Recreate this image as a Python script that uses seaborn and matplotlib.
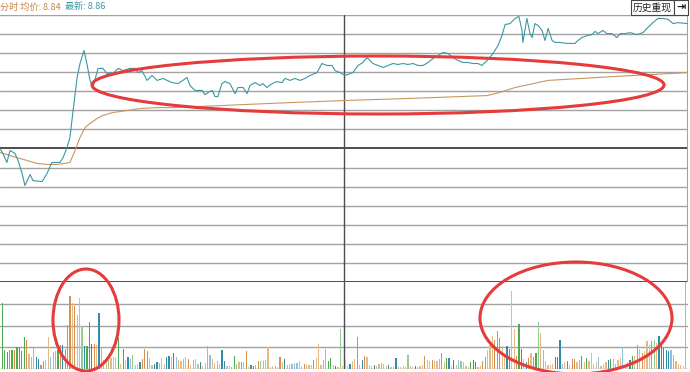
import numpy as np
import pandas as pd
import seaborn as sns
import matplotlib
matplotlib.use("Agg")
import matplotlib.pyplot as plt
from matplotlib.patches import Ellipse, Rectangle

# ---------------- data ----------------
prev_close = 8.81
avg_now = 8.84
last_now = 8.86

price_minute = [0, 1.0, 2.4, 3.5, 5.2, 6.3, 7.7, 8.7, 10.5, 11.5, 14.7, 16.4, 18.1, 20.9, 22.0, 23.4,
                24.4, 25.5, 26.9, 27.9, 29.3, 30.3, 31.4, 32.4, 34.2, 35.9, 37.3, 38.4, 39.4, 41.2,
                42.9, 45.3, 47.1, 48.1, 49.5, 51.3, 53.0, 54.8, 56.9, 58.3, 60.0, 62.1, 63.8, 65.2,
                66.3, 68.0, 70.5, 71.5, 72.6, 74.0, 75.0, 76.0, 77.4, 78.5, 80.2, 82.0, 83.0, 84.8,
                86.2, 87.2, 89.0, 90.7, 91.7, 93.1, 94.9, 96.6, 98.4, 99.4, 101.2, 102.9, 104.7,
                106.4, 108.1, 110.6, 112.3, 114.1, 115.8, 116.9, 118.6, 120.3, 122.1, 123.1, 124.9,
                126.6, 128.0, 129.1, 130.1, 131.9, 133.6, 135.3, 137.1, 138.8, 140.6, 142.3, 144.1,
                145.8, 147.6, 149.3, 151.0, 152.8, 154.5, 156.3, 158.0, 159.8, 161.5, 163.3, 165.0,
                166.7, 168.1, 169.9, 172.0, 173.7, 175.1, 176.2, 177.9, 179.7, 181.0, 182.1, 182.4,
                183.8, 184.9, 185.6, 186.6, 187.7, 189.1, 190.1, 191.2, 192.6, 193.6, 195.3, 197.8,
                199.5, 200.6, 201.6, 203.0, 204.8, 206.5, 207.6, 208.6, 210.3, 211.7, 213.5, 215.2,
                216.3, 218.0, 219.8, 222.2, 224.3, 226.0, 227.8, 229.5, 231.3, 233.0, 234.8, 236.5,
                239.7]
price_value = [8.8100, 8.8080, 8.8043, 8.8092, 8.8080, 8.8051, 8.7998, 8.7949, 8.7994, 8.7969,
               8.7965, 8.7998, 8.8043, 8.8043, 8.8063, 8.8104, 8.8145, 8.8255, 8.8390, 8.8447,
               8.8500, 8.8447, 8.8378, 8.8349, 8.8427, 8.8427, 8.8406, 8.8410, 8.8406, 8.8427,
               8.8418, 8.8427, 8.8427, 8.8410, 8.8418, 8.8378, 8.8398, 8.8378, 8.8386, 8.8378,
               8.8369, 8.8365, 8.8378, 8.8390, 8.8357, 8.8337, 8.8337, 8.8320, 8.8329, 8.8337,
               8.8312, 8.8312, 8.8365, 8.8373, 8.8365, 8.8324, 8.8349, 8.8349, 8.8324, 8.8357,
               8.8369, 8.8357, 8.8365, 8.8349, 8.8365, 8.8373, 8.8369, 8.8386, 8.8378, 8.8386,
               8.8378, 8.8386, 8.8398, 8.8410, 8.8447, 8.8439, 8.8439, 8.8418, 8.8410, 8.8398,
               8.8406, 8.8410, 8.8439, 8.8451, 8.8471, 8.8459, 8.8447, 8.8439, 8.8431, 8.8439,
               8.8447, 8.8443, 8.8447, 8.8443, 8.8447, 8.8439, 8.8439, 8.8451, 8.8467, 8.8480,
               8.8492, 8.8488, 8.8471, 8.8459, 8.8451, 8.8451, 8.8447, 8.8447, 8.8439, 8.8459,
               8.8488, 8.8520, 8.8561, 8.8606, 8.8610, 8.8631, 8.8639, 8.8582, 8.8533, 8.8631,
               8.8569, 8.8553, 8.8610, 8.8602, 8.8582, 8.8541, 8.8590, 8.8541, 8.8533, 8.8533,
               8.8529, 8.8529, 8.8529, 8.8541, 8.8553, 8.8561, 8.8565, 8.8578, 8.8569, 8.8582,
               8.8569, 8.8569, 8.8553, 8.8569, 8.8569, 8.8573, 8.8565, 8.8573, 8.8594, 8.8614,
               8.8631, 8.8631, 8.8627, 8.8610, 8.8614, 8.8610]

avg_minute = [0, 3.5, 5.9, 9.4, 12.9, 16.4, 19.9, 22.7, 24.4, 26.2, 27.9, 29.7, 31.4, 33.8, 35.9,
              39.4, 44.3, 48.8, 54.8, 61.0, 94.2, 120.3, 142.0, 169.9, 174.4, 179.7, 191.2, 214.5, 240]
avg_value = [8.8084, 8.8071, 8.8063, 8.8051, 8.8039, 8.8035, 8.8035, 8.8039, 8.8043, 8.8092,
             8.8145, 8.8186, 8.8202, 8.8222, 8.8235, 8.8247, 8.8255, 8.8263, 8.8267, 8.8267,
             8.8284, 8.8296, 8.8304, 8.8316, 8.8329, 8.8349, 8.8378, 8.8394, 8.8410]

volume = [66, 19, 17, 19, 19, 19, 22, 22, 18, 32,
          29, 15, 12, 21, 12, 10, 4, 8, 9, 32,
          12, 17, 18, 19, 24, 24, 20, 44, 73, 66,
          63, 54, 71, 43, 23, 23, 47, 25, 25, 24,
          56, 22, 9, 9, 9, 11, 12, 12, 31, 5,
          20, 9, 12, 10, 14, 4, 5, 7, 10, 20,
          18, 11, 4, 5, 7, 6, 11, 5, 12, 13,
          12, 16, 12, 9, 8, 10, 12, 10, 4, 9,
          10, 5, 7, 3, 6, 23, 14, 10, 6, 8,
          5, 19,
          8, 3, 3, 2, 13, 5, 7, 7, 7, 18,
          2, 4, 3, 4, 8, 8, 8, 9, 22, 2,
          3, 3, 2, 12, 7, 10, 4, 5, 5, 6,
          6, 8, 3, 5, 4, 4, 4, 9, 11, 25,
          4, 9, 20, 8, 11, 4, 3, 2, 40, 3,
          10, 3, 5, 8, 10, 32, 4, 9, 13, 12,
          4, 3, 4, 3, 5, 6, 5, 3, 4, 2,
          3, 11, 2, 2, 3, 2, 14, 3, 2, 3,
          2, 3, 4, 13, 9, 8, 9, 8, 8, 10,
          16, 7, 11, 11, 3, 9, 4, 9,
          8, 7, 3, 2, 7, 9, 7, 2, 3, 8,
          12, 19, 24, 33, 29, 38, 31, 23, 12, 23,
          20, 78, 40, 13, 45, 20, 10, 7, 11, 16,
          12, 16, 47, 36, 19, 8, 4, 4, 5, 12,
          12, 29, 5, 7, 8, 4, 10, 10, 7, 9,
          13, 7, 11, 8, 16, 5, 7, 12, 3, 5,
          7, 9, 10, 10, 5, 9, 11, 22, 4, 7,
          9, 13, 13, 24, 20, 16, 18, 28, 24, 28,
          29, 26, 33, 25, 21, 19, 18, 19, 14, 8,
          5, 4, 3, 100]

volume_kind = ("gggogogggg oOBBbbooOO BBGgoboooO oOOGbggboO bBBOGOOOgO gObBGOOboo "
               "oOObbBOObb ObBOOBOoOB OObOOGBOOB Ob "
               "bOOGgGOoOo ObbBoGGOOO OBOoObBOBB BOOoOOOoOO OBBggObOGO OObOOoOboO "
               "OObOOGOObO ObOOOOGOOb OOOoOOoOOB oOgbObOB "
               "GOOOgbbOOo oOOOoooOOb gOOogbOboO ogGOBOOOOb bbBOgOooOG gOgOOOOBOO "
               "ObgOBOOBOO bgOoOoOOOo GObbbbbBGO OOOB").replace(" ", "")

kind_color = {"g": "#4fa94f", "G": "#93cc93", "o": "#d68f4f", "O": "#e4b986",
              "b": "#2f8cab", "B": "#8cc2db"}

# ---------------- figure ----------------
sns.set_theme(style="white")
plt.rcParams["font.family"] = ["Noto Sans CJK SC", "DejaVu Sans"]

W, H = 690, 372
fig = plt.figure(figsize=(W / 100, H / 100), dpi=100)
fig.patch.set_facecolor("white")

def fx(px):
    return px / W

def fy(py):
    return 1 - py / H

ax_p = fig.add_axes([0, fy(282), fx(688), (282 - 15) / H])
ax_v = fig.add_axes([0, fy(369), fx(688), (369 - 282) / H])

grid_light = "#a2a2a2"
grid_dark = "#4d4d4d"

# price panel
half = 0.0545
lo, hi = prev_close - half, prev_close + half
ax_p.set_xlim(0, 240)
ax_p.set_ylim(lo, hi)
for i, lv in enumerate(np.linspace(lo, hi, 15)):
    if i == 7 or i == 0:
        ax_p.axhline(lv, color=grid_dark, lw=1.4, zorder=1)
    else:
        ax_p.axhline(lv, color=grid_light, lw=1.0, zorder=1)
ax_p.axvline(120, color=grid_dark, lw=1.0, zorder=1)
ax_p.axvline(240, color=grid_light, lw=1.5, zorder=1)

sns.lineplot(x=avg_minute, y=avg_value, ax=ax_p, color="#c8975f", lw=0.8, zorder=3)
sns.lineplot(x=price_minute, y=price_value, ax=ax_p, color="#3c96a3", lw=0.8, zorder=4)

# volume panel
n = len(volume)
dfv = pd.DataFrame({"i": np.arange(n), "v": volume, "k": list(volume_kind[:n])})
pal = {i: kind_color[k] for i, k in zip(dfv["i"], dfv["k"])}
sns.barplot(data=dfv, x="i", y="v", hue="i", palette=pal, legend=False,
            errorbar=None, width=0.5, dodge=False, ax=ax_v, zorder=3,
            linewidth=0, edgecolor="none", saturation=1)
ax_v.set_xlim(-1, n)
ax_v.set_ylim(0, 87)
for i, lv in enumerate(np.linspace(0, 87, 5)):
    if i == 4:
        continue
    ax_v.axhline(lv, color=grid_light, lw=1.0, zorder=1)
ax_v.axvline((n - 1) / 2, color=grid_dark, lw=1.0, zorder=1)

for ax in (ax_p, ax_v):
    ax.set_xticks([])
    ax.set_yticks([])
    ax.set_xlabel("")
    ax.set_ylabel("")
    for s in ax.spines.values():
        s.set_visible(False)
    ax.patch.set_alpha(0)

# header
fig.text(fx(0), fy(7), f"分时 均价: {avg_now:.2f}", color="#c8864a", fontsize=6.6,
         va="center", ha="left")
fig.text(fx(65), fy(7), f"最新: {last_now:.2f}", color="#3a9aa5", fontsize=6.6,
         va="center", ha="left")

fig.add_artist(Rectangle((fx(631), fy(15)), fx(43), 15 / H, transform=fig.transFigure,
                         facecolor="white", edgecolor="#444444", lw=0.8, zorder=5))
fig.add_artist(Rectangle((fx(674), fy(15)), fx(14), 15 / H, transform=fig.transFigure,
                         facecolor="white", edgecolor="#444444", lw=0.8, zorder=5))
fig.text(fx(652.5), fy(7.5), "历史重现", fontsize=7, color="#222222", ha="center",
         va="center", zorder=6)
fig.text(fx(681), fy(7.5), "⇥", fontsize=8, color="#222222", ha="center", va="center",
         zorder=6, family=["DejaVu Sans"], weight="bold")

# red annotation ellipses
red = "#e53b3b"
for cx, cy, w, h in [(378, 85, 572, 58), (86, 320, 66, 102), (576, 318, 192, 112)]:
    fig.add_artist(Ellipse((fx(cx), fy(cy)), w / W, h / H, transform=fig.transFigure,
                           fill=False, edgecolor=red, lw=2.2, zorder=10))

fig.savefig("out.png", dpi=100, facecolor="white")
